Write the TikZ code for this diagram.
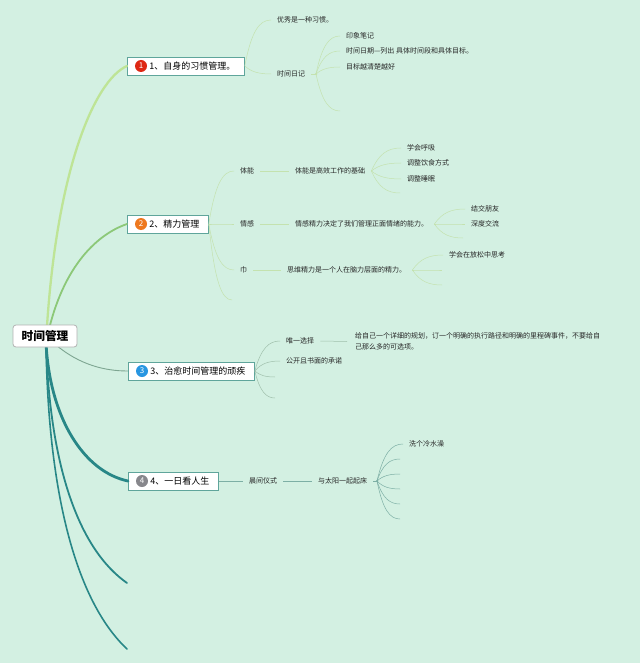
\documentclass[tikz,border=0pt]{standalone}
\usepackage{fontspec}
\setmainfont{Noto Sans CJK SC}
\usetikzlibrary{calc}
\definecolor{bg}{RGB}{211,240,226}
\definecolor{boxline}{RGB}{95,165,155}
\definecolor{lineA}{RGB}{190,228,150}
\definecolor{lineB}{RGB}{140,200,120}
\definecolor{lineC}{RGB}{125,165,145}
\definecolor{lineD}{RGB}{40,135,135}
\definecolor{leafA}{RGB}{196,226,175}
\definecolor{leafC}{RGB}{160,192,172}
\definecolor{leafD}{RGB}{125,175,165}
\definecolor{numA}{RGB}{222,40,20}
\definecolor{numB}{RGB}{238,120,30}
\definecolor{numC}{RGB}{40,150,225}
\definecolor{numD}{RGB}{135,135,140}
\tikzset{
  rootbox/.style={draw=gray!60, fill=white, rounded corners=3pt, line width=0.8pt, minimum width=64pt, minimum height=22pt, inner sep=2pt, font=\fontsize{11.7}{13}\selectfont\bfseries},
  branchbox/.style={draw=boxline, fill=white, line width=0.8pt, minimum height=18pt, inner ysep=0pt, inner xsep=9pt, anchor=west, font=\fontsize{9}{10}\selectfont},
  numdot/.style={circle, fill=#1, text=white, minimum size=12pt, inner sep=0pt, font=\fontsize{8}{9}\selectfont},
  leaf/.style={anchor=west, inner xsep=6pt, inner ysep=1pt, font=\fontsize{7}{11}\selectfont, text=black!85},
  twig/.style={line width=0.5pt, draw=#1},
  fan/.style={to path={let \p1=(\tikztostart), \p2=(\tikztotarget) in .. controls ({\x1+0.25*(\x2-\x1)},{\y1+0.75*(\y2-\y1)}) and ({\x1+0.55*(\x2-\x1)},\y2) .. (\tikztotarget)}},
  knot/.style={circle, fill=#1, inner sep=0pt, minimum size=2.5pt},
}

\begin{document}
\begin{tikzpicture}[x=1pt,y=-1pt]
\useasboundingbox (0,0) rectangle (640,663);
\fill[bg] (0,0) rectangle (640,663);
\coordinate (r0) at (46,343); \coordinate (r3) at (56,345);
\coordinate (c5) at (127,583); \coordinate (c6) at (127,649);
% main branches
\node[branchbox] (b1) at (127,66) {\hspace{13pt}1、自身的习惯管理。};
\node[branchbox] (b2) at (127,224) {\hspace{13pt}2、精力管理};
\node[branchbox] (b3) at (128,371) {\hspace{13pt}3、治愈时间管理的顽疾};
\node[branchbox] (b4) at (128,481) {\hspace{13pt}4、一日看人生};
\foreach \b/\c/\k in {b1/numA/1,b2/numB/2,b3/numC/3,b4/numD/4}{\node[numdot=\c] (n\k) at ($(\b.west)+(14,0)$) {\k};}
\draw[lineA, line width=2.3pt, line cap=round] (r0) .. controls (55,170) and (95,80) .. (b1.west);
\draw[lineB, line width=1.8pt, line cap=round] (r0) .. controls (60,270) and (95,235) .. (b2.west);
\draw[lineC, line width=0.9pt] (r3) .. controls (80,365) and (105,371) .. (b3.west);
\draw[lineD, line width=2.8pt, line cap=round] (r0) .. controls (50,420) and (85,472) .. (b4.west);
\draw[lineD, line width=1.8pt, line cap=round] (r0) .. controls (50,470) and (80,550) .. (c5);
\draw[lineD, line width=1.6pt, line cap=round] (r0) .. controls (48,490) and (75,600) .. (c6);
\node[rootbox] (root) at (45,336) {时间管理};
% leaves
\foreach \n/\p/\t in {t11/{271,20}/优秀是一种习惯。, t12/{271,74}/时间日记, t121/{340,36}/印象笔记, t122/{340,51}/时间日期---列出 具体时间段和具体目标。, t123/{340,67}/目标越清楚越好,
  t21/{234,171}/体能, t22/{234,224}/情感, t23/{234,270}/巾, u21/{289,171}/体能是高效工作的基础, u22/{289,224}/情感精力决定了我们管理正面情绪的能力。, u23/{281,270}/思维精力是一个人在脑力层面的精力。,
  v211/{401,148}/学会呼吸, v212/{401,163}/调整饮食方式, v213/{401,179}/调整睡眠, v221/{465,209}/结交朋友, v222/{465,224}/深度交流, v231/{443,255}/学会在放松中思考,
  t31/{280,341}/唯一选择, t32/{280,361}/公开且书面的承诺, t41/{243,481}/晨间仪式, u41/{312,481}/与太阳一起起床, v411/{403,444}/洗个冷水澡}{\node[leaf] (\n) at (\p) {\t};}
\node[leaf, align=left] (u31) at (349,341.5) {给自己一个详细的规划，订一个明确的执行路径和明确的里程碑事件，不要给自\\己那么多的可选项。};
\foreach \n/\p in {e124/{340,111}, e24/{232,300}, e214/{400,193}, e223/{463,238}, e232/{442,270}, e233/{442,285}, e33/{275,377}, e34/{275,398}, j12/{316,74}, j41/{377,481}, e412/{400,459}, e413/{400,474}, e414/{400,489}, e415/{400,504}, e416/{400,519}}{\coordinate (\n) at (\p);}
% twigs
\foreach \a/\b in {b1.east/t11.west, b1.east/t12.west, j12/t121.west, j12/t122.west, j12/t123.west, j12/e124}{\draw[twig=leafA] (\a) to[fan] (\b);}
\draw[twig=leafA] (t12.east) -- (j12);
\node[knot=leafA] (k12) at (j12) {};
\foreach \a/\b in {b2.east/t21.west, b2.east/t22.west, b2.east/t23.west, b2.east/e24, u21.east/v211.west, u21.east/v212.west, u21.east/v213.west, u21.east/e214, u22.east/v221.west, u22.east/v222.west, u22.east/e223, u23.east/v231.west, u23.east/e232, u23.east/e233}{\draw[twig=leafA] (\a) to[fan] (\b);}
\foreach \a/\b in {t21/u21, t22/u22, t23/u23}{\draw[twig=leafA] (\a.east) -- (\b.west);}
\foreach \a/\b in {b3.east/t31.west, b3.east/t32.west, b3.east/e33, b3.east/e34}{\draw[twig=leafC] (\a) to[fan] (\b);}
\draw[twig=leafC] (t31.east) -- ([xshift=-2pt]u31.west);
\draw[twig=leafD] (b4.east) -- (t41.west);
\draw[twig=leafD] (t41.east) -- (u41.west);
\draw[twig=leafD] (u41.east) -- (j41);
\foreach \b in {v411.west, e412, e413, e414, e415, e416}{\draw[twig=leafD] (j41) to[fan] (\b);}
\node[knot=leafD] (k41) at (j41) {};
\end{tikzpicture}
\end{document}
